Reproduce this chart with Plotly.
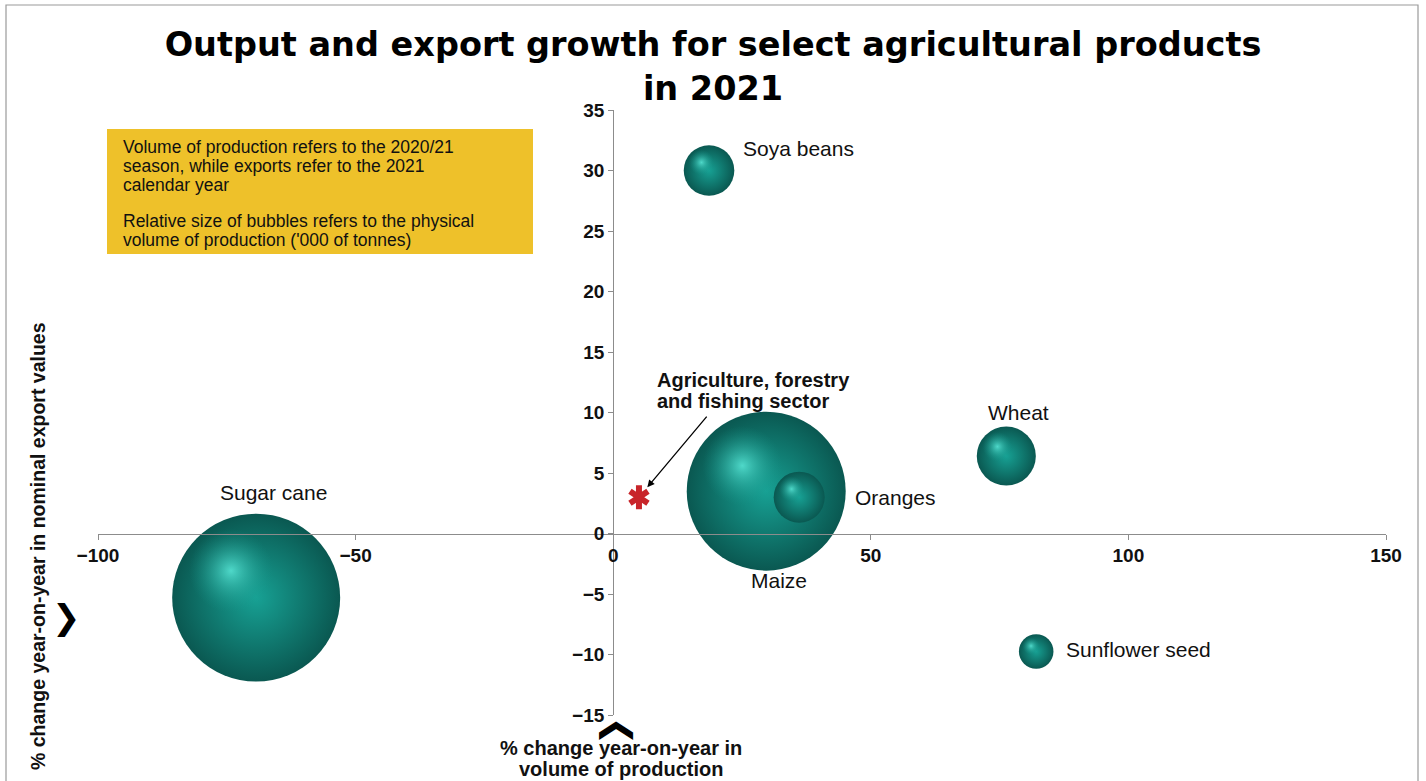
import math
import plotly.graph_objects as go

# ---- data ----
products = ["Sugar cane", "Maize", "Wheat", "Oranges", "Soya beans", "Sunflower seed"]
production_growth = [-69.3, 29.7, 76.3, 36.1, 18.6, 82.1]   # x: % change in volume of production
export_growth = [-5.3, 3.5, 6.4, 3.0, 30.0, -9.75]          # y: % change in nominal export values
production_volume = [18200, 16300, 2250, 1680, 1650, 770]   # '000 tonnes (bubble size)

sector_lines = ["Agriculture, forestry", "and fishing sector"]
sector_x = [5.0]
sector_y = [3.0]

x_range = [-100, 150]
y_range = [-15, 35]
x_ticks = [-100, -50, 0, 50, 100, 150]
y_ticks = [-15, -10, -5, 0, 5, 10, 15, 20, 25, 30, 35]

title_text = "Output and export growth for select agricultural products<br>in 2021"
note_lines = ["Volume of production refers to the 2020/21",
              "season, while exports refer to the 2021",
              "calendar year",
              "",
              "Relative size of bubbles refers to the physical",
              "volume of production ('000 of tonnes)"]
x_title_lines = ["% change year-on-year in", "volume of production"]
y_title = "% change year-on-year in nominal export values"

# ---- layout geometry / style ----
W, H = 1426, 781
ML, MR, MT, MB = 98, 40, 110, 66
PW, PH = W - ML - MR, H - MT - MB
SIZEREF = 1.29
FONT = "Liberation Sans, Arial, sans-serif"
AXIS_GREY = "#8c8c8c"

# label offsets (pixels) relative to each bubble
label_style = {
    "Sugar cane": dict(xshift=17, yshift=105, xanchor="center"),
    "Maize": dict(xshift=13, yshift=-89, xanchor="center"),
    "Wheat": dict(xshift=12, yshift=44, xanchor="center"),
    "Oranges": dict(xshift=54, yshift=0, xanchor="left"),
    "Soya beans": dict(xshift=32, yshift=22, xanchor="left"),
    "Sunflower seed": dict(xshift=28, yshift=2, xanchor="left"),
}


def px_to_paper_x(px):
    return (px - ML) / PW


def px_to_paper_y(py):
    return (H - MB - py) / PH


fig = go.Figure()

ux = PW / (x_range[1] - x_range[0])
uy = PH / (y_range[1] - y_range[0])

for name, xv, yv, vol in zip(products, production_growth, export_growth, production_volume):
    d = math.sqrt(2 * vol / SIZEREF)
    # base sphere
    fig.add_trace(go.Scatter(
        x=[xv], y=[yv], mode="markers",
        marker=dict(size=[vol], sizemode="area", sizeref=SIZEREF, opacity=1,
                    color="#0a5851",
                    gradient=dict(type="radial", color="#17a194"),
                    line=dict(width=0)),
        text=[name], hoverinfo="text", showlegend=False,
    ))
    # specular highlight, offset up-left
    fig.add_trace(go.Scatter(
        x=[xv - 0.15 * d / ux], y=[yv + 0.16 * d / uy], mode="markers",
        marker=dict(size=[vol * 0.5 ** 2], sizemode="area", sizeref=SIZEREF, opacity=1,
                    color="rgba(22,150,138,0)",
                    gradient=dict(type="radial", color="rgba(90,232,216,0.85)"),
                    line=dict(width=0)),
        hoverinfo="skip", showlegend=False,
    ))

# sector asterisk (six arms from two Y symbols)
for sym in ["y-up-open", "y-down-open"]:
    fig.add_trace(go.Scatter(
        x=sector_x, y=sector_y, mode="markers",
        marker=dict(symbol=sym, size=15, line=dict(width=6, color="#c8252a"), color="#c8252a"),
        hoverinfo="skip", showlegend=False,
    ))

annotations = []
for name, xv, yv in zip(products, production_growth, export_growth):
    st = label_style[name]
    annotations.append(dict(
        x=xv, y=yv, xref="x", yref="y", text=name, showarrow=False,
        xanchor=st["xanchor"], yanchor="middle", xshift=st["xshift"], yshift=st["yshift"],
        font=dict(family=FONT, size=21, color="#111111"),
    ))

# sector arrow and label
annotations.append(dict(
    x=sector_x[0], y=sector_y[0], xref="x", yref="y", text="", showarrow=True,
    ax=69, ay=-82, axref="pixel", ayref="pixel", arrowhead=2, arrowsize=1.1,
    arrowwidth=1.3, arrowcolor="#000000", standoff=13,
))
for i, line in enumerate(sector_lines):
    annotations.append(dict(
        x=sector_x[0], y=sector_y[0], xref="x", yref="y",
        text="<b>" + line + "</b>", showarrow=False,
        xanchor="left", yanchor="middle", xshift=16, yshift=117 - 21 * i,
        font=dict(family=FONT, size=20, color="#111111"),
    ))

# note box lines
note_y = [147, 166, 185, 203, 221, 240]
for line, py in zip(note_lines, note_y):
    if not line:
        continue
    annotations.append(dict(
        x=px_to_paper_x(121), y=px_to_paper_y(py), xref="paper", yref="paper",
        text=line, showarrow=False, xanchor="left", yanchor="middle",
        font=dict(family=FONT, size=17.5, color="#111111"),
    ))

# axis titles
annotations.append(dict(
    x=px_to_paper_x(38), y=px_to_paper_y(546), xref="paper", yref="paper",
    text="<b>" + y_title + "</b>", showarrow=False, textangle=-90,
    xanchor="center", yanchor="middle",
    font=dict(family=FONT, size=19.5, color="#111111"),
))
for line, py in zip(x_title_lines, [748, 769]):
    annotations.append(dict(
        x=1.5, y=px_to_paper_y(py), xref="x", yref="paper", text="<b>" + line + "</b>",
        showarrow=False, xanchor="center", yanchor="middle",
        font=dict(family=FONT, size=20, color="#111111"),
    ))

# chevrons
annotations.append(dict(
    x=px_to_paper_x(66), y=px_to_paper_y(617), xref="paper", yref="paper",
    text="<b>❯</b>", showarrow=False, xanchor="center", yanchor="middle",
    font=dict(family="DejaVu Sans", size=34, color="#000000"),
))
annotations.append(dict(
    x=0, y=px_to_paper_y(731), xref="x", yref="paper", text="<b>❯</b>",
    showarrow=False, textangle=-90, xanchor="center", yanchor="middle",
    font=dict(family="DejaVu Sans", size=34, color="#000000"),
))

shapes = [
    dict(type="rect", xref="paper", yref="paper",
         x0=px_to_paper_x(107), x1=px_to_paper_x(533),
         y0=px_to_paper_y(254), y1=px_to_paper_y(129),
         fillcolor="#eec12a", line=dict(width=0), layer="below"),
    dict(type="rect", xref="paper", yref="paper",
         x0=px_to_paper_x(6), x1=px_to_paper_x(1418),
         y0=px_to_paper_y(800), y1=px_to_paper_y(5),
         fillcolor="rgba(0,0,0,0)", line=dict(width=1.2, color="#9a9a9a"), layer="below"),
]

x_axis_pos = (0 - y_range[0]) / (y_range[1] - y_range[0])
y_axis_pos = (0 - x_range[0]) / (x_range[1] - x_range[0])

fig.update_layout(
    width=W, height=H,
    margin=dict(l=ML, r=MR, t=MT, b=MB),
    paper_bgcolor="white", plot_bgcolor="white",
    title=dict(text="<b>" + title_text + "</b>", x=0.5, xanchor="center",
               y=1 - 56 / H, yref="container", yanchor="middle",
               font=dict(family="DejaVu Sans", size=33.5, color="#000000")),
    xaxis=dict(range=x_range, tickvals=x_ticks, showgrid=False, zeroline=False,
               showline=True, linecolor=AXIS_GREY, linewidth=1.2,
               ticks="outside", ticklen=5, tickcolor=AXIS_GREY,
               anchor="free", position=x_axis_pos,
               tickfont=dict(family=FONT, size=19, color="#111111", weight="bold")),
    yaxis=dict(range=y_range, tickvals=y_ticks, showgrid=False, zeroline=False,
               showline=True, linecolor=AXIS_GREY, linewidth=1.2,
               ticks="outside", ticklen=5, tickcolor=AXIS_GREY,
               anchor="free", position=y_axis_pos,
               tickfont=dict(family=FONT, size=19, color="#111111", weight="bold")),
    annotations=annotations, shapes=shapes,
    showlegend=False,
)

fig.write_html("out.html")
